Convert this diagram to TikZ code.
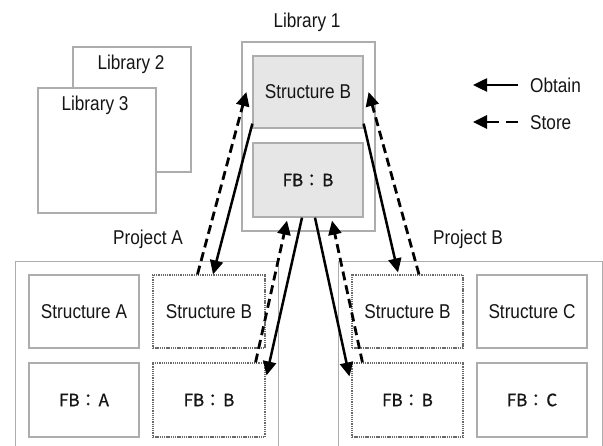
\documentclass[tikz,border=0pt]{standalone}
\usepackage{fontspec}
\setmainfont{Liberation Sans}[FakeStretch=0.86]
\newfontfamily\cjk{Noto Sans CJK JP}[FakeBold=0.8]
\usetikzlibrary{arrows.meta,calc}
\definecolor{boxgray}{HTML}{ADADAD}
\definecolor{fillgray}{HTML}{E6E6E6}
\definecolor{dotgray}{HTML}{6A6A6A}
\definecolor{txtcol}{HTML}{151515}
\begin{document}
\begin{tikzpicture}[x=1pt,y=-1pt,
  font=\fontsize{20}{23}\selectfont, text=txtcol,
  box/.style={draw=boxgray, line width=1.3pt, inner sep=0pt},
  libbox/.style={box, fill=fillgray},
  dotbox/.style={draw=dotgray, line width=1.1pt, dash pattern=on 1.3pt off 0.9pt, inner sep=0pt},
  cell/.style={minimum width=110pt, minimum height=73pt},
  fbtxt/.style={font=\cjk\fontsize{17}{19}\selectfont},
  lbl/.style={anchor=base, inner sep=0pt},
  tip/.style={-{Triangle[length=14pt,width=13pt]}},
  obtain/.style={line width=2.5pt, draw=black, tip},
  store/.style={line width=2.8pt, draw=black, dash pattern=on 9pt off 5pt, tip},
  legstore/.style={line width=2.8pt, draw=black, dash pattern=on 12pt off 7pt, tip}
]
\useasboundingbox (0,0) rectangle (603,446);
\clip (0,0) rectangle (603,446);
\fill[white] (0,0) rectangle (603,446);

% Library 2 and 3
\node[box, minimum width=118pt, minimum height=125pt] (lib2) at (132,109.5) {};
\node[lbl] (lib2t) at (131,70) {Library 2};
\node[box, fill=white, minimum width=118pt, minimum height=125pt] (lib3) at (97,150.5) {};
\node[lbl] (lib3t) at (95,111) {Library 3};

% Library 1
\node[lbl] (lib1t) at (307,28) {Library 1};
\node[box, minimum width=133pt, minimum height=189pt] (lib1) at (308.5,136.5) {};
\node[libbox, minimum width=110pt, minimum height=72pt] (lib1sb) at (308,92) {Structure B};
\node[libbox, minimum width=110pt, minimum height=74pt, fbtxt] (lib1fb) at (308,180) {FB：\kern2pt B};

% Projects
\node[lbl] (prAt) at (148,245) {Project A};
\node[lbl] (prBt) at (468,245) {Project B};
\node[box, anchor=north west, minimum width=263pt, minimum height=220pt] (prA) at (15,261) {};
\node[box, anchor=north west, minimum width=264pt, minimum height=220pt] (prB) at (338,261) {};

\node[box, cell] (A1) at (84,311.5) {Structure A};
\node[dotbox, cell, minimum width=112pt] (A2) at (209,311.5) {Structure B};
\node[box, cell, minimum height=74pt, fbtxt] (A3) at (84,400) {FB：\kern2pt A};
\node[dotbox, cell, minimum width=112pt, minimum height=74pt, fbtxt] (A4) at (209,400) {FB：\kern2pt B};

\node[dotbox, cell, minimum width=111pt] (B1) at (407.5,311.5) {Structure B};
\node[box, cell] (B2) at (532,311.5) {Structure C};
\node[dotbox, cell, minimum width=111pt, minimum height=74pt, fbtxt] (B3) at (407.5,400) {FB：\kern2pt B};
\node[box, cell, minimum height=74pt, fbtxt] (B4) at (532,400) {FB：\kern2pt C};

% Arrows
\draw[obtain] ($(lib1sb.south west)+(0,-5)$) -- ($(A2.north)+(4,0)$);
\draw[store] ($(A2.north west)+(45,0)$) -- ($(lib1sb.west)+(-6,0)$);
\draw[obtain] ($(lib1fb.south)+(-6,0)$) -- ($(A4.north east)+(1,13)$);
\draw[store] ($(A4.north east)+(-10,0)$) -- ($(lib1fb.south)+(-21,3)$);
\draw[obtain] ($(lib1fb.south)+(7,0)$) -- ($(B3.north west)+(-2,14)$);
\draw[store] ($(B3.north west)+(11,0)$) -- ($(lib1fb.south)+(24,3)$);
\draw[obtain] ($(lib1sb.south east)+(0,-5)$) -- ($(B1.north)+(-9.5,-2)$);
\draw[store] ($(B1.north)+(11.5,0)$) -- ($(lib1sb.east)+(5,0)$);

% Legend
\coordinate (ob1) at (518,85);
\coordinate (ob2) at (473,85);
\coordinate (st1) at (518,122);
\coordinate (st2) at (473,122);
\draw[obtain] (ob1) -- (ob2);
\draw[legstore] (st1) -- (st2);
\node[lbl, anchor=base west] (obt) at (530,93) {Obtain};
\node[lbl, anchor=base west] (stt) at (530,130) {Store};
\end{tikzpicture}
\end{document}
